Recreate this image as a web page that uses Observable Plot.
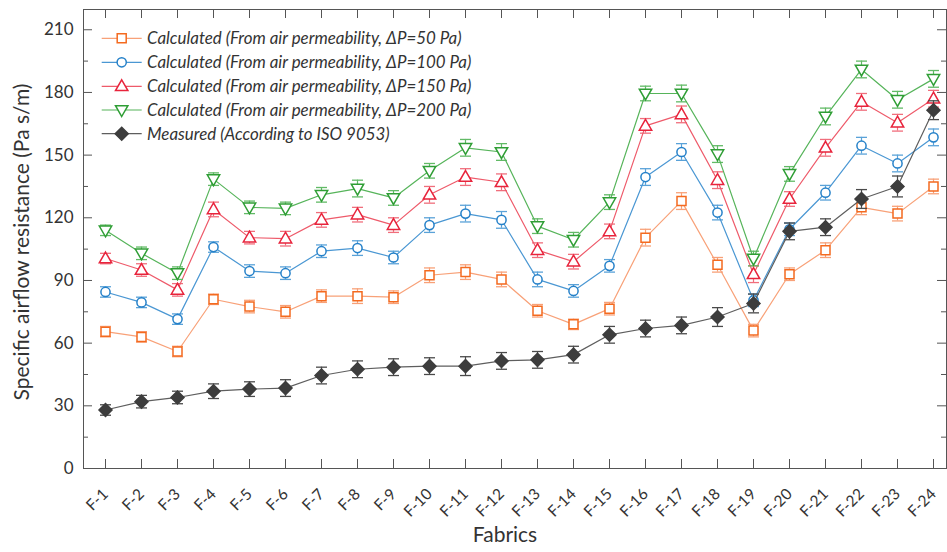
<!DOCTYPE html>
<html><head><meta charset="utf-8">
<script src="https://cdn.jsdelivr.net/npm/d3@7"></script>
<script src="https://cdn.jsdelivr.net/npm/@observablehq/plot@0.6"></script>
<style>body{margin:0;background:#fff} #chart{position:relative;width:947px;height:552px}</style>
</head><body><div id="chart"></div>
<script>
const fabrics = ["F-1","F-2","F-3","F-4","F-5","F-6","F-7","F-8","F-9","F-10","F-11","F-12","F-13","F-14","F-15","F-16","F-17","F-18","F-19","F-20","F-21","F-22","F-23","F-24"];
const yTicks = [0, 30, 60, 90, 120, 150, 180, 210];
const yMinor = [15, 45, 75, 105, 135, 165, 195];

const calc50  = [65.5,63,56,81,77.5,75,82.5,82.5,82,92.5,94,90.5,75.5,69,76.5,110.5,128,97.5,66,93,104.5,125,122,135];
const calc100 = [84.5,79.5,71.5,106,94.5,93.5,104,105.5,101,116.5,122,119,90.5,85,97,139.5,151.5,122.5,80.5,114.5,132,154.5,146,158.5];
const calc150 = [100.5,95,85.5,124,110.5,110,119,121.5,116.5,131,139.5,137,104.5,99,113.5,164,169.5,138,93,129,153.5,175.5,165.5,177];
const calc200 = [114,103,93.5,138.5,125,124.5,131,134,129.5,142.5,153.5,151.5,116,109.5,127.5,179.5,179.5,150.5,100.5,141,168.5,191,176.5,186.5];
const measured = [28,32,34,37,38,38.5,44.5,47.5,48.5,49,49,51.5,52,54.5,64,67,68.5,72.5,79,113.5,115.5,129,135,171.5];

const err50  = [2.5,2.5,2.5,2.5,3,3,3,3.5,3,3.5,3.5,3.5,3,2.5,3,4,4,3.5,3,3,3.5,3.5,3.5,3.5];
const err100 = [2.5,2.5,2.5,2.5,3,3,3,3.5,3,3.5,4,4,3.5,3,3,4,4,3.5,3,3,3.5,4,4,4];
const err150 = [2.5,3,3,3.5,3,3.5,3.5,3.5,3.5,4,4,4,3.5,3.5,3.5,3.5,4,4,4,3.5,4,4,4,4];
const err200 = [2.5,3,3,3,3,3,3.5,4,3.5,3.5,4,4,3.5,3.5,3.5,3.5,4,4,3.5,3.5,4,4,4,4];
const errMeas = [2.5,3,3,3.5,3.5,4,4,4,4,4,4.5,4,4,4,4,4,4,4.5,4.5,4,4,4.5,5,4.5];

const labels = [
  "Calculated (From air permeability, \u0394P=50 Pa)",
  "Calculated (From air permeability, \u0394P=100 Pa)",
  "Calculated (From air permeability, \u0394P=150 Pa)",
  "Calculated (From air permeability, \u0394P=200 Pa)",
  "Measured (According to ISO 9053)"
];

const symSquare = {draw(c){c.moveTo(-4.5,-4.5);c.lineTo(4.5,-4.5);c.lineTo(4.5,4.5);c.lineTo(-4.5,4.5);c.closePath();}};
const symCircle = {draw(c){c.moveTo(4.6,0);c.arc(0,0,4.6,0,2*Math.PI);}};
const symTriUp = {draw(c){c.moveTo(0,-6.5);c.lineTo(6.2,4.3);c.lineTo(-6.2,4.3);c.closePath();}};
const symTriDown = {draw(c){c.moveTo(0,6.5);c.lineTo(6.2,-4.3);c.lineTo(-6.2,-4.3);c.closePath();}};
const symDiamond = {draw(c){c.moveTo(0,-6.5);c.lineTo(6.5,0);c.lineTo(0,6.5);c.lineTo(-6.5,0);c.closePath();}};
const symCap = {draw(c){c.moveTo(-5.5,0);c.lineTo(5.5,0);}};

const series = [
  {values: calc50,  errors: err50,  marker:"#F46A1F", line:"#F8A178", errc:"#F8A178", symbol: symSquare, filled:false},
  {values: calc100, errors: err100, marker:"#2581C9", line:"#4A97D3", errc:"#5AA2D8", symbol: symCircle, filled:false},
  {values: calc150, errors: err150, marker:"#E8243C", line:"#EE5A6A", errc:"#F06E7C", symbol: symTriUp, filled:false},
  {values: calc200, errors: err200, marker:"#2F9E35", line:"#56B45A", errc:"#62BA66", symbol: symTriDown, filled:false},
  {values: measured, errors: errMeas, marker:"#3D3D3D", line:"#5E5E5E", errc:"#4A4A4A", symbol: symDiamond, filled:true}
];

const font = "Lato, 'Open Sans', sans-serif";
const marks = [];
for (const s of series) {
  const rows = fabrics.map((f, i) => ({f, v: s.values[i], lo: s.values[i] - s.errors[i], hi: s.values[i] + s.errors[i]}));
  marks.push(Plot.ruleX(rows, {x: "f", y1: "lo", y2: "hi", stroke: s.errc, strokeWidth: 1.2}));
  marks.push(Plot.dot(rows, {x: "f", y: "lo", symbol: symCap, r: 3, stroke: s.errc, strokeWidth: 1.3, fill: "none"}));
  marks.push(Plot.dot(rows, {x: "f", y: "hi", symbol: symCap, r: 3, stroke: s.errc, strokeWidth: 1.3, fill: "none"}));
  marks.push(Plot.line(rows, {x: "f", y: "v", stroke: s.line, strokeWidth: 1.2}));
  marks.push(Plot.dot(rows, {x: "f", y: "v", symbol: s.symbol, r: 3, stroke: s.marker, strokeWidth: 1.5, fill: s.filled ? s.marker : "white"}));
}

const H = 552, MT = 9, MB = 84, ML = 83, MR = 1;
const innerH = H - MT - MB, innerW = 947 - ML - MR;

const chart = Plot.plot({
  width: 947, height: H,
  marginTop: MT, marginBottom: MB, marginLeft: ML, marginRight: MR,
  style: {fontFamily: font, background: "white"},
  x: {type: "point", domain: fabrics, range: [101.7, 936.5], padding: 0},
  y: {domain: [0, 219.7]},
  marks: [
    Plot.tickX(fabrics, {x: d => d, insetTop: innerH - 9, stroke: "#555"}),
    Plot.tickX(fabrics, {x: d => d, insetBottom: innerH - 9, stroke: "#555"}),
    Plot.tickY(yTicks, {y: d => d, insetRight: innerW - 9, stroke: "#555"}),
    Plot.tickY(yMinor, {y: d => d, insetRight: innerW - 5, stroke: "#555"}),
    Plot.tickY(yTicks, {y: d => d, insetLeft: innerW - 9, stroke: "#555"}),
    Plot.tickY(yMinor, {y: d => d, insetLeft: innerW - 5, stroke: "#555"}),
    Plot.axisY({ticks: yTicks, tickSize: 0, tickPadding: 10, fontSize: 17, fill: "#333", label: null}),
    Plot.axisX({tickSize: 0, tickRotate: -45, tickPadding: 23, fontSize: 15.5, fill: "#333", label: null}),
    Plot.text(["Specific airflow resistance (Pa s/m)"], {frameAnchor: "left", textAnchor: "middle", rotate: -90, dx: -61, dy: 3, fontSize: 21, fill: "#333"}),
    Plot.text(["Fabrics"], {frameAnchor: "bottom", textAnchor: "middle", dy: 73, dx: -10, fontSize: 21, fill: "#333"}),
    ...marks,
    Plot.frame({stroke: "#555", strokeWidth: 1})
  ]
});

// legend (inside plot, top-left)
const svg = d3.select(chart);
const lg = svg.append("g").attr("font-family", font).attr("text-anchor", "start");
const rowsY = [38.3, 62.3, 86.3, 110, 133.7];
series.forEach((s, i) => {
  const y = rowsY[i];
  lg.append("line").attr("x1", 101.7).attr("x2", 141.7).attr("y1", y).attr("y2", y).attr("stroke", s.line).attr("stroke-width", 1.2);
  const p = d3.path(); s.symbol.draw(p);
  lg.append("path").attr("d", p.toString()).attr("transform", `translate(121.7,${y})`)
    .attr("stroke", s.marker).attr("stroke-width", 1.5).attr("fill", s.filled ? s.marker : "white");
  lg.append("text").attr("x", 147).attr("y", y).attr("dy", "0.35em").attr("font-size", 16.9)
    .attr("font-style", "italic").attr("fill", "#333").attr("text-anchor", "start").text(labels[i]);
});

document.getElementById("chart").appendChild(chart);
</script>
</body></html>
